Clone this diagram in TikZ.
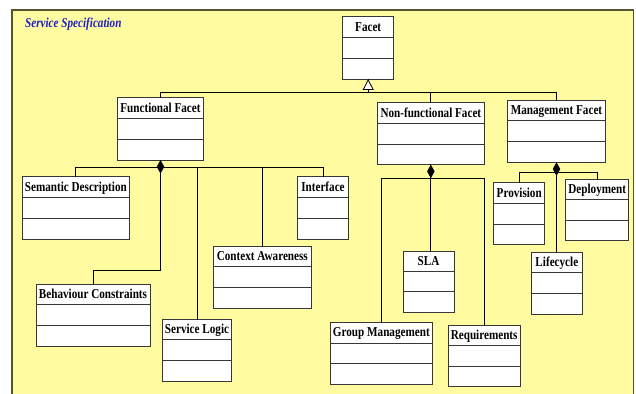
\documentclass[tikz,border=0pt]{standalone}
\usepackage{fontspec}
\usetikzlibrary{arrows.meta,calc}
\newfontfamily\umlfont{Liberation Serif}[FakeStretch=0.82]

\definecolor{pagebg}{RGB}{255,251,160}
\definecolor{framecol}{RGB}{85,85,45}
\definecolor{boxline}{RGB}{55,55,55}
\definecolor{titleblue}{RGB}{30,30,200}

\tikzset{
  classbox/.style={draw=boxline, fill=white, line width=0.9pt, inner sep=0pt, outer sep=0pt, anchor=north west},
  classtitle/.style={font=\umlfont\bfseries\fontsize{13.6}{15}\selectfont, inner sep=0pt, anchor=base},
  divider/.style={draw=boxline, line width=0.9pt},
  link/.style={draw=black, line width=0.8pt},
  comp/.style={link, {Diamond[length=13.5pt,width=7.5pt]}-},
  gen/.style={link, {Triangle[open,fill=white,length=11pt,width=11pt]}-},
}

% UML class box with three compartments: name, x1, y1, x2, y2, title
\newcommand\classbox[6]{%
  \node[classbox, minimum width={(#4-#2)*1pt}, minimum height={(#5-#3)*1pt}] (#1) at (#2,#3) {};
  \draw[divider] ($(#1.north west)!1/3!(#1.south west)$) -- ($(#1.north east)!1/3!(#1.south east)$);
  \draw[divider] ($(#1.north west)!2/3!(#1.south west)$) -- ($(#1.north east)!2/3!(#1.south east)$);
  \node[classtitle] (#1-t) at ($(#1.north)+(0,14.6)$) {#6};
}

\begin{document}
\begin{tikzpicture}[x=1pt, y=-1pt]
  \useasboundingbox (0,0) rectangle (636,393);
  \clip (0,0) rectangle (636,393);
  % package frame
  \draw[fill=pagebg, draw=framecol, line width=1.4pt] (12,10) rectangle (633.5,400);
  \node[font=\umlfont\bfseries\itshape\fontsize{13.6}{15}\selectfont, text=titleblue, anchor=base west, inner sep=0pt] (spec) at (25,27.5) {Service Specification};

  % classes
  \classbox{facet}{342.7}{16.7}{393.7}{79}{Facet}
  \classbox{ff}{117.3}{97.7}{203.7}{160}{Functional Facet}
  \classbox{nf}{377.7}{102.7}{484}{164.7}{Non-functional Facet}
  \classbox{mf}{507.7}{100}{605.3}{162.3}{Management Facet}

  \classbox{sd}{22}{176.7}{129.7}{239}{Semantic Description}
  \classbox{if}{297.7}{176.7}{348.3}{239}{Interface}
  \classbox{ca}{213.3}{246}{311.3}{308}{Context Awareness}
  \classbox{bc}{36}{284.3}{150}{346}{Behaviour Constraints}
  \classbox{sl}{162.3}{319.3}{231.7}{381}{Service Logic}

  \classbox{sla}{403}{251}{454}{312.3}{SLA}
  \classbox{gm}{330}{322.3}{432.7}{384.3}{Group Management}
  \classbox{rq}{448}{325}{520.3}{386.7}{Requirements}

  \classbox{pr}{493.7}{182.7}{544.7}{244.7}{Provision}
  \classbox{dp}{565.7}{179}{628.7}{240.7}{Deployment}
  \classbox{lc}{531.7}{252}{582}{314.3}{Lifecycle}

  % generalisation
  \draw[link] (facet.south) -- ++(0,13.5) -| (nf.north);
  \draw[link] (facet.south) -- ++(0,13.5) -| (mf.north);
  \draw[gen] (facet.south) -- ++(0,13.5) -| (ff.north);

  % Functional Facet composition
  \draw[link] (ff.south) -- ++(0,7.5) -| (sd.north);
  \draw[link] (ff.south) -- ++(0,7.5) -| (sl.north);
  \draw[link] (ff.south) -- ++(0,7.5) -| (ca.north);
  \draw[link] (ff.south) -- ++(0,7.5) -| (if.north);
  \draw[comp] (ff.south) -- ++(0,110) -| (bc.north);

  % Non-functional Facet composition
  \draw[link] (nf.south) -- ++(0,14) -| (gm.north);
  \draw[link] (nf.south) -- ++(0,14) -| (rq.north);
  \draw[comp] (nf.south) -- (nf.south |- sla.north);

  % Management Facet composition
  \draw[link] (mf.south) -- ++(0,10.4) -| (pr.north);
  \draw[link] (mf.south) -- ++(0,10.4) -| (dp.north);
  \draw[comp] (mf.south) -- (mf.south |- lc.north);
\end{tikzpicture}
\end{document}
